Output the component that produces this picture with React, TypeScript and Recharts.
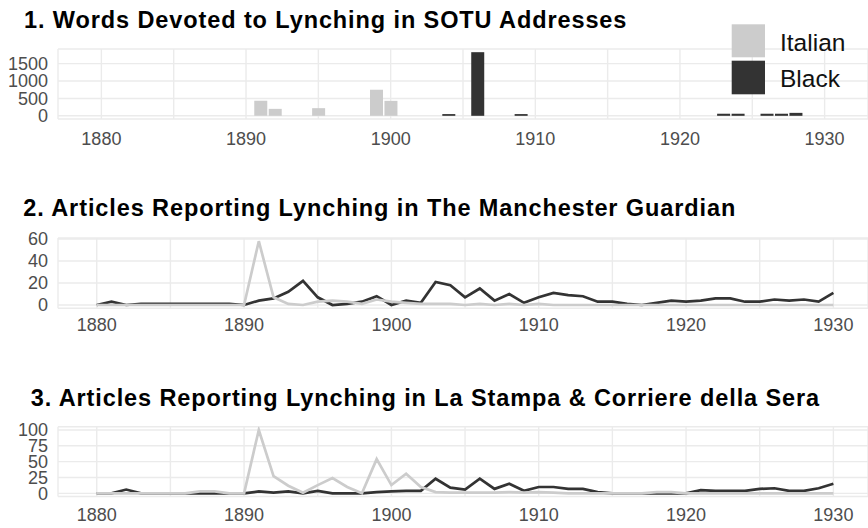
import { BarChart, Bar, LineChart, Line, XAxis, YAxis, CartesianGrid } from "recharts";

const FONT = '"Liberation Sans", Arial, sans-serif';
const ITALIAN = "#cccccc";
const BLACK = "#333333";
const GRID = "#ebebeb";

// x axis: grid every 5 years, labels every 10
const gridYears = [1880, 1885, 1890, 1895, 1900, 1905, 1910, 1915, 1920, 1925, 1930];
const labelYears = [1880, 1890, 1900, 1910, 1920, 1930];

// 1. SOTU words (only years with words)
const sotuYears = [1891, 1892, 1895, 1899, 1900, 1904, 1906, 1909, 1923, 1924, 1926, 1927, 1928];
const sotuItalian = [430, 200, 220, 750, 430, null, null, null, null, null, null, null, null];
const sotuBlack = [null, null, null, null, null, 50, 1830, 50, 60, 60, 60, 60, 85];
const sotuTicks = [0, 500, 1000, 1500];

// 2. + 3. yearly article counts, 1880..1930
const years = Array.from({ length: 51 }, (_, i) => 1880 + i);
const guardianBlack = [
  0, 3, 0, 1, 1, 1, 1, 1, 1, 1,
  0, 4, 6, 12, 22, 7, 0, 1, 3, 8,
  0, 4, 2, 21, 18, 7, 15, 4, 10, 2,
  7, 11, 9, 8, 3, 3, 1, 0, 2, 4,
  3, 4, 6, 6, 3, 3, 5, 4, 5, 3,
  11,
];
const guardianItalian = [
  0, 0, 0, 0, 0, 0, 0, 0, 0, 0,
  0, 58, 7, 1, 0, 3, 4, 3, 1, 5,
  3, 2, 1, 1, 1, 0, 1, 0, 1, 0,
  1, 0, 0, 0, 0, 0, 0, 0, 0, 0,
  0, 0, 0, 0, 0, 0, 0, 0, 0, 0,
  0,
];
const guardianTicks = [0, 20, 40, 60];

const italyBlack = [
  0, 0, 6, 0, 0, 0, 0, 0, 0, 0,
  0, 3, 1, 3, 0, 4, 0, 0, 0, 2,
  3, 4, 4, 23, 9, 6, 23, 7, 15, 4,
  10, 10, 7, 7, 2, 0, 0, 0, 0, 0,
  0, 5, 4, 4, 4, 7, 8, 4, 4, 8,
  15,
];
const italyItalian = [
  0, 0, 0, 0, 0, 0, 0, 3, 3, 0,
  0, 100, 27, 12, 1, 13, 24, 10, 0, 54,
  13, 31, 10, 2, 1, 1, 1, 1, 2, 1,
  2, 1, 0, 0, 0, 0, 0, 0, 2, 2,
  0, 0, 0, 0, 0, 0, 0, 0, 0, 0,
  0,
];
const italyTicks = [0, 25, 50, 75, 100];

const sotuData = sotuYears.map((year, i) => ({ year, italian: sotuItalian[i], black: sotuBlack[i] }));
const guardianData = years.map((year, i) => ({ year, italian: guardianItalian[i], black: guardianBlack[i] }));
const italyData = years.map((year, i) => ({ year, italian: italyItalian[i], black: italyBlack[i] }));

const tickStyle = { fontSize: 18, fill: "#4d4d4d", fontFamily: FONT };
const yearFmt = (v: number) => (labelYears.includes(v) ? String(v) : "");

function LinePanel({ data, top, height, marginTop, axisH, gap, domain, ticks }: any) {
  return (
    <div style={{ position: "absolute", left: 0, top }}>
      <LineChart width={868} height={height} data={data} margin={{ top: marginTop, right: 0, bottom: 0, left: 0 }}>
        <CartesianGrid stroke={GRID} strokeWidth={1.4} />
        <XAxis dataKey="year" type="number" domain={[1877.37, 1932.35]} allowDataOverflow ticks={gridYears}
          tickFormatter={yearFmt} interval={0} axisLine={false} tickLine={false} tickSize={0} tickMargin={gap}
          height={axisH} tick={tickStyle} />
        <YAxis type="number" domain={domain} allowDataOverflow ticks={ticks} interval={0} width={58}
          axisLine={false} tickLine={false} tickSize={0} tickMargin={10} tick={tickStyle} />
        <Line type="linear" dataKey="black" stroke={BLACK} strokeWidth={2.7} dot={false} isAnimationActive={false} />
        <Line type="linear" dataKey="italian" stroke={ITALIAN} strokeWidth={2.7} dot={false} isAnimationActive={false} />
      </LineChart>
    </div>
  );
}

const titleProps = { fontSize: 23.5, fontWeight: "bold", fill: "#000", letterSpacing: 0.9 };

export default function App() {
  return (
    <div style={{ position: "absolute", left: 0, top: 0, width: 868, height: 528, background: "#fff" }}>
      <div style={{ position: "absolute", left: 0, top: 0 }}>
        <BarChart width={868} height={160} data={sotuData} margin={{ top: 49, right: 0, bottom: 0, left: 0 }}>
          <CartesianGrid stroke={GRID} strokeWidth={1.4} />
          <XAxis dataKey="year" type="number" domain={[1877, 1933]} allowDataOverflow ticks={gridYears}
            tickFormatter={yearFmt} interval={0} axisLine={false} tickLine={false} tickSize={0} tickMargin={13}
            height={41} tick={tickStyle} />
          <YAxis type="number" domain={[-91.5, 1921.5]} allowDataOverflow ticks={sotuTicks} interval={0} width={58}
            axisLine={false} tickLine={false} tickSize={0} tickMargin={10} tick={tickStyle} />
          <Bar dataKey="italian" stackId="s" fill={ITALIAN} barSize={13} isAnimationActive={false} />
          <Bar dataKey="black" stackId="s" fill={BLACK} barSize={13} isAnimationActive={false} />
        </BarChart>
      </div>
      <LinePanel data={guardianData} top={190} height={160} marginTop={48} axisH={41.8} gap={10}
        domain={[-2.9, 60.9]} ticks={guardianTicks} />
      <LinePanel data={italyData} top={380} height={148} marginTop={46.8} axisH={31.5} gap={12}
        domain={[-5, 105]} ticks={italyTicks} />

      <svg width={868} height={528} style={{ position: "absolute", left: 0, top: 0, pointerEvents: "none" }}
        fontFamily={FONT}>
        <text x={24} y={27.7} {...titleProps}>
          1. Words Devoted to Lynching in SOTU Addresses
        </text>
        <text x={23.3} y={216} {...titleProps}>
          2. Articles Reporting Lynching in The Manchester Guardian
        </text>
        <text x={30.7} y={405.7} {...titleProps}>
          3. Articles Reporting Lynching in La Stampa &amp; Corriere della Sera
        </text>
        <rect x={731.7} y={24.3} width={33.3} height={33} fill={ITALIAN} />
        <rect x={731.7} y={60.7} width={33.3} height={33.6} fill={BLACK} />
        <text x={780} y={51} fontSize={24.5} fill="#111">Italian</text>
        <text x={780} y={87.3} fontSize={24.5} fill="#111">Black</text>
      </svg>
    </div>
  );
}
